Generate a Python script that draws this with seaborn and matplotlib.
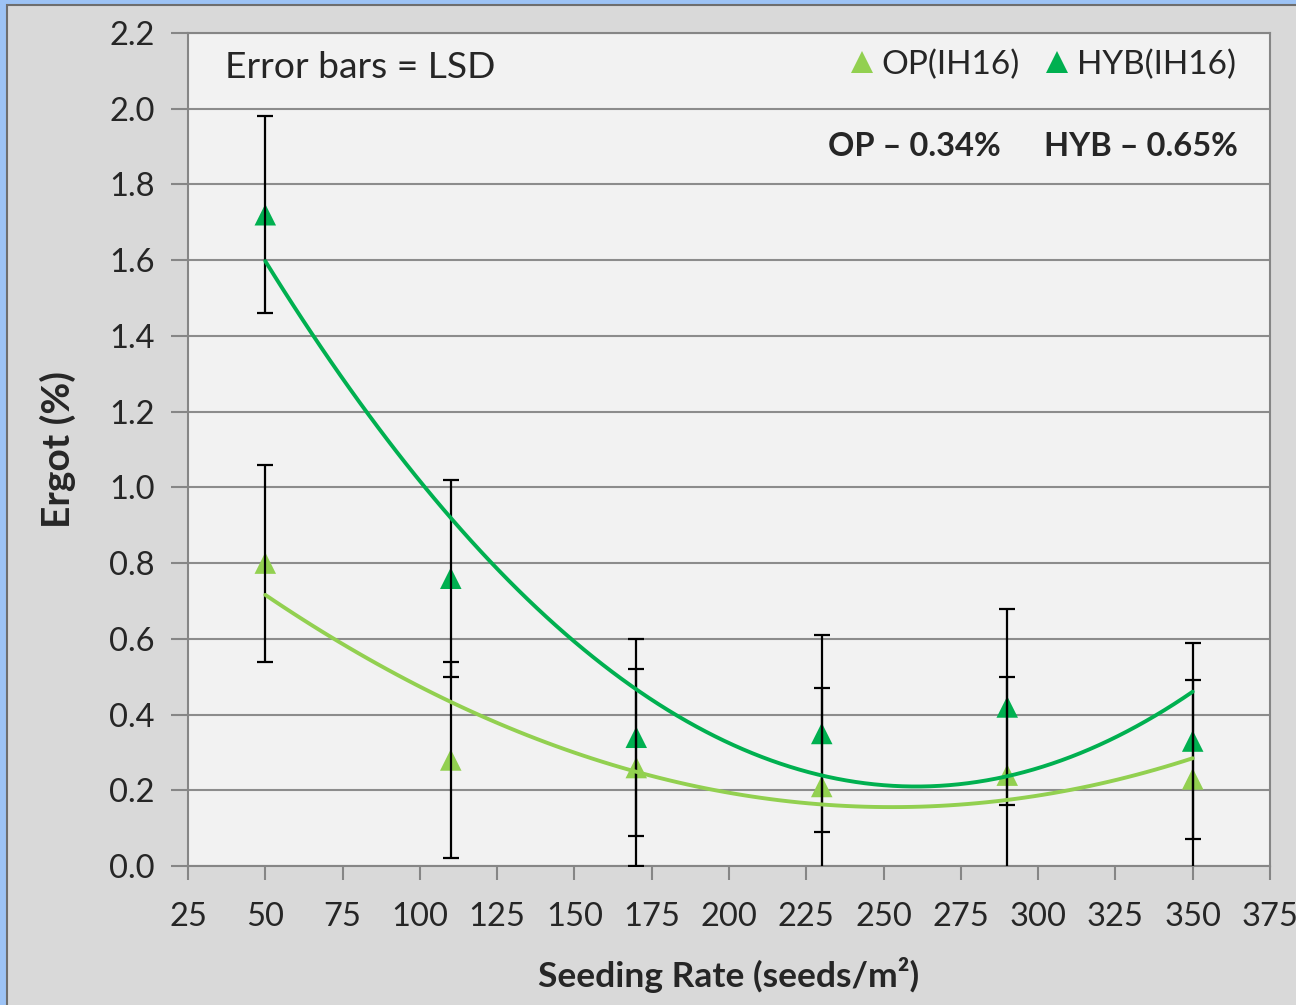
import numpy as np
import pandas as pd
import matplotlib
matplotlib.use("Agg")
import matplotlib.pyplot as plt
from matplotlib.patches import Rectangle
import seaborn as sns

# data
seeding_rate = [50, 110, 170, 230, 290, 350]
op_ergot = [0.80, 0.28, 0.26, 0.21, 0.24, 0.23]
hyb_ergot = [1.72, 0.76, 0.34, 0.35, 0.42, 0.33]
lsd_bar = 0.26
series_names = ["OP(IH16)", "HYB(IH16)"]
series_colors = ["#92D050", "#00B050"]
x_ticks = list(range(25, 376, 25))
y_ticks = [0.0, 0.2, 0.4, 0.6, 0.8, 1.0, 1.2, 1.4, 1.6, 1.8, 2.0, 2.2]

df = pd.DataFrame({
    "rate": seeding_rate * 2,
    "ergot": op_ergot + hyb_ergot,
    "variety": [series_names[0]] * 6 + [series_names[1]] * 6,
})

sns.set_theme(style="white")
plt.rcParams["font.family"] = ["Lato", "DejaVu Sans"]

fig = plt.figure(figsize=(12.96, 10.05), dpi=100, facecolor="#9DC3F5")
fig.add_artist(Rectangle((7 / 1296, -0.05), 1.1, 1.05 - 5 / 1005,
                         transform=fig.transFigure, facecolor="#D9D9D9",
                         edgecolor="#6E6E6E", lw=1.5, zorder=0))

ax = fig.add_axes([188 / 1296, 1 - 866 / 1005, 1082 / 1296, 833 / 1005])
ax.set_facecolor("#F2F2F2")

# markers
sns.scatterplot(data=df, x="rate", y="ergot", hue="variety",
                palette=dict(zip(series_names, series_colors)),
                marker="^", s=240, edgecolor="none", ax=ax, zorder=3)

# LSD error bars
for vals in [op_ergot, hyb_ergot]:
    ax.errorbar(seeding_rate, vals, yerr=lsd_bar, fmt="none", ecolor="black",
                elinewidth=1.6, capsize=6, capthick=1.6, zorder=4)

# 2nd order polynomial trend lines
for vals, col in zip([op_ergot, hyb_ergot], series_colors):
    sns.regplot(x=seeding_rate, y=vals, order=2, ci=None, scatter=False,
                truncate=True, line_kws=dict(color=col, lw=2.8, zorder=5), ax=ax)

ax.set_xlim(25, 375)
ax.set_ylim(0, 2.2)
ax.set_xticks(x_ticks)
ax.set_yticks(y_ticks)
ax.set_yticklabels([f"{v:.1f}" for v in y_ticks])
ax.yaxis.grid(True, color="#8C8C8C", lw=1.5)
ax.xaxis.grid(False)
for sp in ax.spines.values():
    sp.set_color("#868686")
    sp.set_linewidth(1.5)
ax.tick_params(axis="y", direction="out", length=12, width=1.5,
               color="#868686", labelsize=23.5, pad=12, left=True)
ax.tick_params(axis="x", direction="out", length=10, width=1.5,
               color="#868686", labelsize=23.5, pad=16, bottom=True)

ax.set_xlabel("Seeding Rate (seeds/m²)", fontsize=25.5, fontweight="bold")
ax.set_ylabel("Ergot (%)", fontsize=28, fontweight="bold")
ax.xaxis.set_label_coords(0.5, (866 - 957) / 833)
ax.yaxis.set_label_coords((76 - 188) / 1082, 0.5)

ax.text((225 - 188) / 1082, (866 - 68) / 833, "Error bars = LSD",
        transform=ax.transAxes, ha="left", va="center", fontsize=26.8)
ax.text((828 - 188) / 1082, (866 - 146) / 833, "OP – 0.34%",
        transform=ax.transAxes, ha="left", va="center", fontsize=23.5,
        fontweight="bold")
ax.text((1238 - 188) / 1082, (866 - 146) / 833, "HYB – 0.65%",
        transform=ax.transAxes, ha="right", va="center", fontsize=23.5,
        fontweight="bold")

handles, labels = ax.get_legend_handles_labels()
ax.legend(handles[:2], labels[:2], loc="upper right", ncol=2, frameon=False,
          fontsize=24, handletextpad=0.1, columnspacing=0.6, handlelength=1.0,
          bbox_to_anchor=((1249 - 188) / 1082, (866 - 36) / 833), borderaxespad=0)

fig.savefig("out.png", dpi=100, facecolor=fig.get_facecolor())
